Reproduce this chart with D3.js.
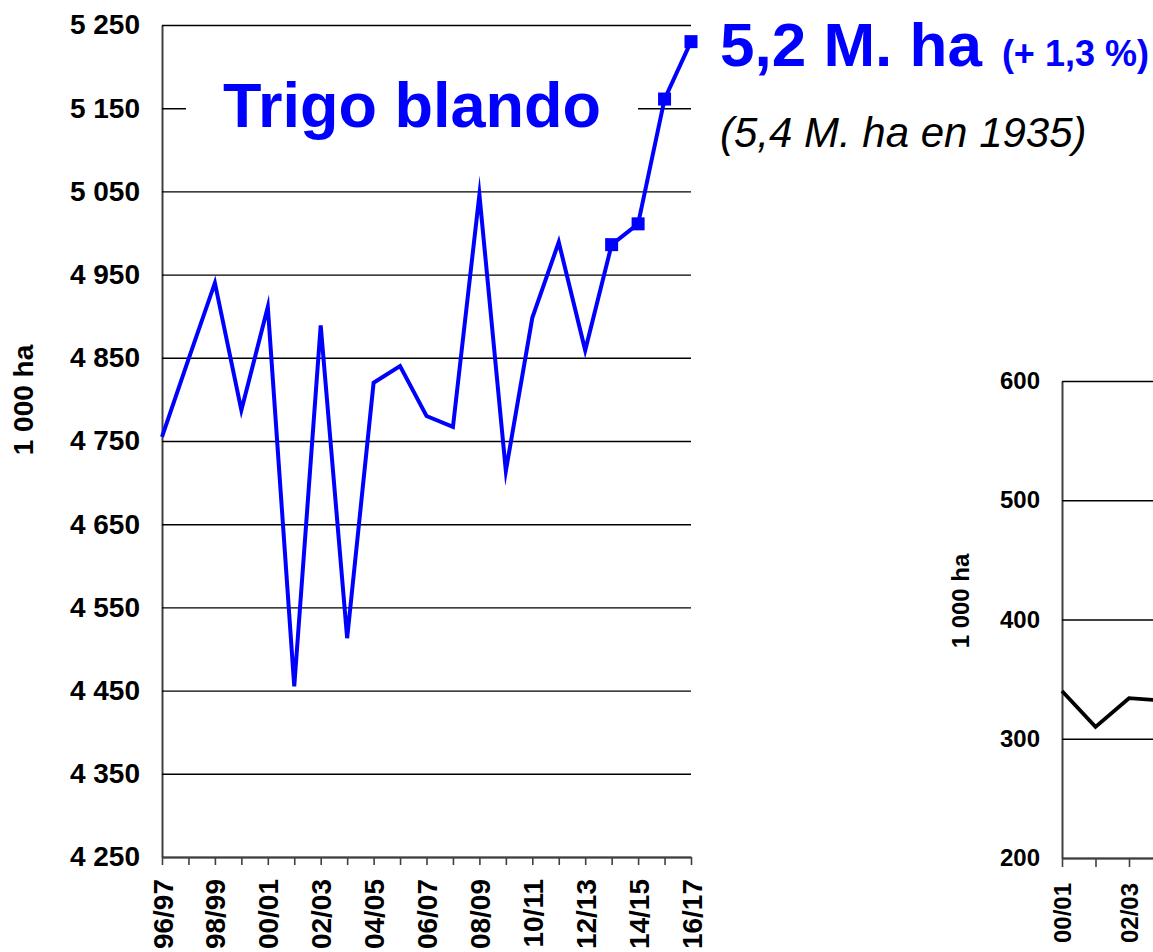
<!DOCTYPE html>
<html>
<head>
<meta charset="utf-8">
<script src="https://cdn.jsdelivr.net/npm/d3@7"></script>
<style>
  html, body { margin: 0; padding: 0; background: #fff; overflow: hidden; }
  svg { display: block; }
  text { font-family: "Liberation Sans", Arial, sans-serif; }
</style>
</head>
<body>
<svg id="chart" width="1153" height="952"></svg>
<script>
// ---------- DATA ----------
const categories = ["96/97","97/98","98/99","99/00","00/01","01/02","02/03","03/04","04/05","05/06",
                    "06/07","07/08","08/09","09/10","10/11","11/12","12/13","13/14","14/15","15/16","16/17"];
const softWheat = [4755,4848,4940,4787,4911,4455,4889,4513,4820,4840,
                   4780,4767,5046,4714,4898,4989,4859,4986,5011,5161,5230];
const markedCategories = ["13/14","14/15","15/16","16/17"];
const yTicks = [4250,4350,4450,4550,4650,4750,4850,4950,5050,5150,5250];

const rightCategories = ["00/01","01/02","02/03","03/04"];
const rightValues = [340,310,334,332];
const rightTicks = [200,300,400,500,600];

const titleText = "Trigo blando";
const headlineText = "5,2 M. ha";
const changeText = "(+ 1,3 %)";
const noteText = "(5,4 M. ha en 1935)";
const unitText = "1 000 ha";

// ---------- SETUP ----------
const svg = d3.select("#chart");
svg.append("rect").attr("width",1153).attr("height",952).attr("fill","#fff");
const fmt = d => d3.format(",")(d).replace(/,/g, " ");
const blue = "#0000FF";
const FONT = "'Liberation Sans', Arial, sans-serif";

// ---------- LEFT CHART ----------
const L = {left:162, right:691, top:25, bottom:857};
const x = d3.scalePoint().domain(categories).range([L.left, L.right]);
const y = d3.scaleLinear().domain([4250,5250]).range([L.bottom, L.top]);

const gy = svg.append("g").attr("transform",`translate(${L.left},0)`)
  .call(d3.axisLeft(y).tickValues(yTicks).tickSize(-(L.right-L.left)).tickSizeOuter(0)
        .tickPadding(22).tickFormat(fmt));
gy.select(".domain").attr("stroke","#404040").attr("stroke-width",2);
gy.selectAll(".tick line").attr("stroke","#000").attr("stroke-width",1.4);
gy.selectAll(".tick text").attr("font-size",28).attr("font-weight","bold").attr("fill","#000")
  .attr("font-family",FONT);

const gx = svg.append("g").attr("transform",`translate(0,${L.bottom})`)
  .call(d3.axisBottom(x).tickSize(8).tickSizeOuter(0).tickPadding(0)
        .tickFormat((d,i) => i % 2 === 0 ? d : ""));
gx.select(".domain").attr("stroke","#404040").attr("stroke-width",2);
gx.selectAll(".tick line").attr("stroke","#404040").attr("stroke-width",1.6);
gx.selectAll(".tick text")
  .attr("font-size",28).attr("font-weight","bold").attr("fill","#000")
  .attr("font-family",FONT)
  .attr("text-anchor","end")
  .attr("transform","translate(0,22) rotate(-90)")
  .attr("x",0).attr("y",0).attr("dy","0.36em");

svg.append("text")
  .attr("transform",`translate(23,400) rotate(-90)`)
  .attr("text-anchor","middle").attr("dy","0.36em")
  .attr("font-size",28).attr("font-weight","bold").attr("fill","#000")
  .text(unitText);

// title box
svg.append("rect").attr("x",186).attr("y",70).attr("width",452).attr("height",80).attr("fill","#fff");
svg.append("text").attr("x",412).attr("y",127).attr("text-anchor","middle")
  .attr("font-size",63).attr("font-weight","bold").attr("fill",blue).text(titleText);

// line
const line = d3.line().x((d,i)=>x(categories[i])).y(d=>y(d));
svg.append("path").datum(softWheat).attr("d",line)
  .attr("fill","none").attr("stroke",blue).attr("stroke-width",4)
  .attr("stroke-linejoin","miter").attr("stroke-miterlimit",10);

const ms = 13;
svg.selectAll("rect.mk").data(markedCategories).join("rect").attr("class","mk")
  .attr("x",d=>x(d)-ms/2).attr("y",d=>y(softWheat[categories.indexOf(d)])-ms/2)
  .attr("width",ms).attr("height",ms).attr("fill",blue);

// annotations
const head = svg.append("text").attr("x",720).attr("y",66).attr("fill",blue).attr("font-weight","bold");
head.append("tspan").attr("font-size",62).text(headlineText);
head.append("tspan").attr("font-size",36).attr("dx",20).text(changeText);

svg.append("text").attr("x",720).attr("y",147).attr("font-size",42).attr("font-style","italic")
  .attr("fill","#000").text(noteText);

// ---------- RIGHT CHART (partial) ----------
const R = {left:1062, top:381, bottom:858, step:33.5};
const xr = d3.scalePoint().domain(rightCategories)
  .range([R.left, R.left + R.step*(rightCategories.length-1)]);
const yr = d3.scaleLinear().domain([200,600]).range([R.bottom, R.top]);

const gyr = svg.append("g").attr("transform",`translate(${R.left},0)`)
  .call(d3.axisLeft(yr).tickValues(rightTicks).tickSize(-200).tickSizeOuter(0)
        .tickPadding(22).tickFormat(fmt));
gyr.select(".domain").attr("stroke","#404040").attr("stroke-width",2);
gyr.selectAll(".tick line").attr("stroke","#000").attr("stroke-width",1.4);
gyr.selectAll(".tick text").attr("font-size",24).attr("font-weight","bold").attr("fill","#000")
  .attr("font-family",FONT);

const gxr = svg.append("g").attr("transform",`translate(0,${R.bottom})`)
  .call(d3.axisBottom(xr).tickSize(9).tickSizeOuter(0).tickPadding(0)
        .tickFormat((d,i) => i % 2 === 0 ? d : ""));
gxr.select(".domain").attr("stroke","#404040").attr("stroke-width",2);
gxr.selectAll(".tick line").attr("stroke","#404040").attr("stroke-width",1.6);
gxr.selectAll(".tick text")
  .attr("font-size",24).attr("font-weight","bold").attr("fill","#000")
  .attr("font-family",FONT)
  .attr("text-anchor","end")
  .attr("transform","translate(0,25) rotate(-90)")
  .attr("x",0).attr("y",0).attr("dy","0.36em");

svg.append("text")
  .attr("transform",`translate(960,601) rotate(-90)`)
  .attr("text-anchor","middle").attr("dy","0.36em")
  .attr("font-size",24).attr("font-weight","bold").attr("fill","#000")
  .text(unitText);

const liner = d3.line().x((d,i)=>xr(rightCategories[i])).y(d=>yr(d));
svg.append("path").datum(rightValues).attr("d",liner)
  .attr("fill","none").attr("stroke","#000").attr("stroke-width",3.8);
</script>
</body>
</html>
